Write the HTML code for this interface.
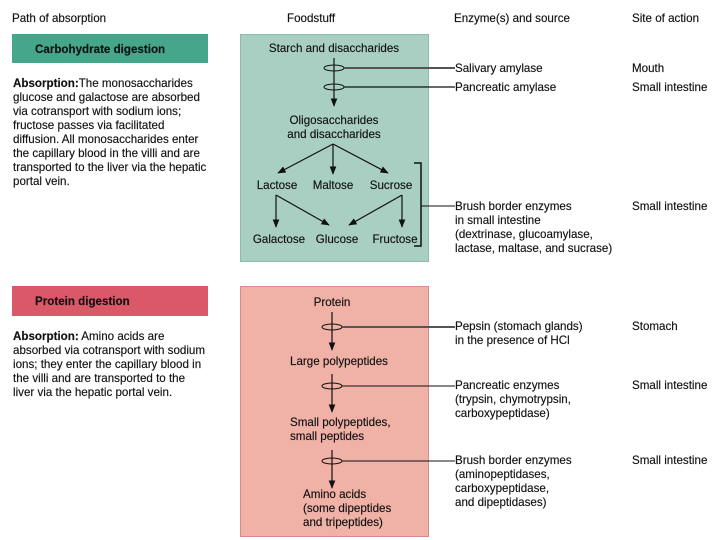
<!DOCTYPE html>
<html><head><style>
body{margin:0;background:#fff;}
svg{display:block;font-family:"Liberation Sans",Arial,sans-serif;}
text{font-size:11.6px;fill:#111;stroke:#111;stroke-width:0.15;}
.b{font-weight:bold;}
</style></head><body>
<svg width="720" height="540" viewBox="0 0 720 540" xmlns="http://www.w3.org/2000/svg">
<defs><marker id="a" viewBox="0 0 10 10" refX="9" refY="5" markerWidth="7" markerHeight="7" orient="auto"><path d="M0,1 L10,5 L0,9 z" fill="#111"/></marker></defs>
<text x="12" y="22">Path of absorption</text>
<text x="287" y="22">Foodstuff</text>
<text x="454" y="22">Enzyme(s) and source</text>
<text x="632" y="22">Site of action</text>
<rect x="12" y="34" width="196" height="29" fill="#45a68c"/>
<text x="35" y="53" class="b">Carbohydrate digestion</text>
<text x="13" y="87"><tspan class="b">Absorption:</tspan>The monosaccharides</text>
<text x="13" y="101">glucose and galactose are absorbed</text>
<text x="13" y="115">via cotransport with sodium ions;</text>
<text x="13" y="129">fructose passes via facilitated</text>
<text x="13" y="143">diffusion. All monosaccharides enter</text>
<text x="13" y="157">the capillary blood in the villi and are</text>
<text x="13" y="171">transported to the liver via the hepatic</text>
<text x="13" y="185">portal vein.</text>
<rect x="12" y="286" width="196" height="30" fill="#db5868"/>
<text x="35" y="305" class="b">Protein digestion</text>
<text x="13" y="340"><tspan class="b">Absorption:</tspan> Amino acids are</text>
<text x="13" y="354">absorbed via cotransport with sodium</text>
<text x="13" y="368">ions; they enter the capillary blood in</text>
<text x="13" y="382">the villi and are transported to the</text>
<text x="13" y="396">liver via the hepatic portal vein.</text>
<rect x="240.5" y="34.5" width="188" height="227" fill="#a9cfc3" stroke="#8cbcac"/>
<text x="334" y="52" text-anchor="middle">Starch and disaccharides</text>
<line x1="334" y1="58" x2="334" y2="106" stroke="#111" stroke-width="1.2" marker-end="url(#a)"/>
<ellipse cx="334" cy="68" rx="10" ry="3" fill="none" stroke="#111"/>
<ellipse cx="334" cy="87" rx="10" ry="3" fill="none" stroke="#111"/>
<line x1="344" y1="68" x2="455" y2="68" stroke="#555" stroke-width="2"/>
<line x1="344" y1="87" x2="455" y2="87" stroke="#111" stroke-width="1.3"/>
<text x="334" y="124" text-anchor="middle">Oligosaccharides</text>
<text x="334" y="138" text-anchor="middle">and disaccharides</text>
<line x1="333" y1="144" x2="278" y2="173" stroke="#111" stroke-width="1.2" marker-end="url(#a)"/>
<line x1="333" y1="144" x2="333" y2="174" stroke="#111" stroke-width="1.2" marker-end="url(#a)"/>
<line x1="333" y1="144" x2="388" y2="173" stroke="#111" stroke-width="1.2" marker-end="url(#a)"/>
<text x="277" y="189" text-anchor="middle">Lactose</text>
<text x="333" y="189" text-anchor="middle">Maltose</text>
<text x="391" y="189" text-anchor="middle">Sucrose</text>
<line x1="276" y1="195" x2="276" y2="227" stroke="#111" stroke-width="1.2" marker-end="url(#a)"/>
<line x1="276" y1="195" x2="329" y2="225" stroke="#111" stroke-width="1.2" marker-end="url(#a)"/>
<line x1="402" y1="195" x2="349" y2="225" stroke="#111" stroke-width="1.2" marker-end="url(#a)"/>
<line x1="402" y1="195" x2="402" y2="227" stroke="#111" stroke-width="1.2" marker-end="url(#a)"/>
<text x="279" y="243" text-anchor="middle">Galactose</text>
<text x="337" y="243" text-anchor="middle">Glucose</text>
<text x="395" y="243" text-anchor="middle">Fructose</text>
<path d="M414,163 H421 V246 H414" fill="none" stroke="#111" stroke-width="1.5"/>
<line x1="421" y1="206" x2="455" y2="206" stroke="#111"/>
<rect x="240.5" y="286.5" width="188" height="250" fill="#f0b1a7" stroke="#d88a90"/>
<text x="332" y="306" text-anchor="middle">Protein</text>
<line x1="332" y1="312" x2="332" y2="350" stroke="#111" stroke-width="1.2" marker-end="url(#a)"/>
<ellipse cx="332" cy="327" rx="10" ry="3" fill="none" stroke="#111"/>
<line x1="342" y1="327" x2="455" y2="327" stroke="#555" stroke-width="2"/>
<text x="290" y="365">Large polypeptides</text>
<line x1="332" y1="374" x2="332" y2="412" stroke="#111" stroke-width="1.2" marker-end="url(#a)"/>
<ellipse cx="332" cy="386" rx="10" ry="3" fill="none" stroke="#111"/>
<line x1="342" y1="386" x2="455" y2="386" stroke="#111"/>
<text x="290" y="426">Small polypeptides,</text>
<text x="290" y="440">small peptides</text>
<line x1="332" y1="450" x2="332" y2="488" stroke="#111" stroke-width="1.2" marker-end="url(#a)"/>
<ellipse cx="332" cy="461" rx="10" ry="3" fill="none" stroke="#111"/>
<line x1="342" y1="461" x2="455" y2="461" stroke="#111"/>
<text x="303" y="498">Amino acids</text>
<text x="303" y="512">(some dipeptides</text>
<text x="303" y="526">and tripeptides)</text>
<text x="455" y="72">Salivary amylase</text>
<text x="455" y="91">Pancreatic amylase</text>
<text x="455" y="210">Brush border enzymes</text>
<text x="455" y="224">in small intestine</text>
<text x="455" y="238">(dextrinase, glucoamylase,</text>
<text x="455" y="252">lactase, maltase, and sucrase)</text>
<text x="455" y="330">Pepsin (stomach glands)</text>
<text x="455" y="344">in the presence of HCl</text>
<text x="455" y="389">Pancreatic enzymes</text>
<text x="455" y="403">(trypsin, chymotrypsin,</text>
<text x="455" y="417">carboxypeptidase)</text>
<text x="455" y="464">Brush border enzymes</text>
<text x="455" y="478">(aminopeptidases,</text>
<text x="455" y="492">carboxypeptidase,</text>
<text x="455" y="506">and dipeptidases)</text>
<text x="632" y="72">Mouth</text>
<text x="632" y="91">Small intestine</text>
<text x="632" y="210">Small intestine</text>
<text x="632" y="330">Stomach</text>
<text x="632" y="389">Small intestine</text>
<text x="632" y="464">Small intestine</text>
</svg>
</body></html>
